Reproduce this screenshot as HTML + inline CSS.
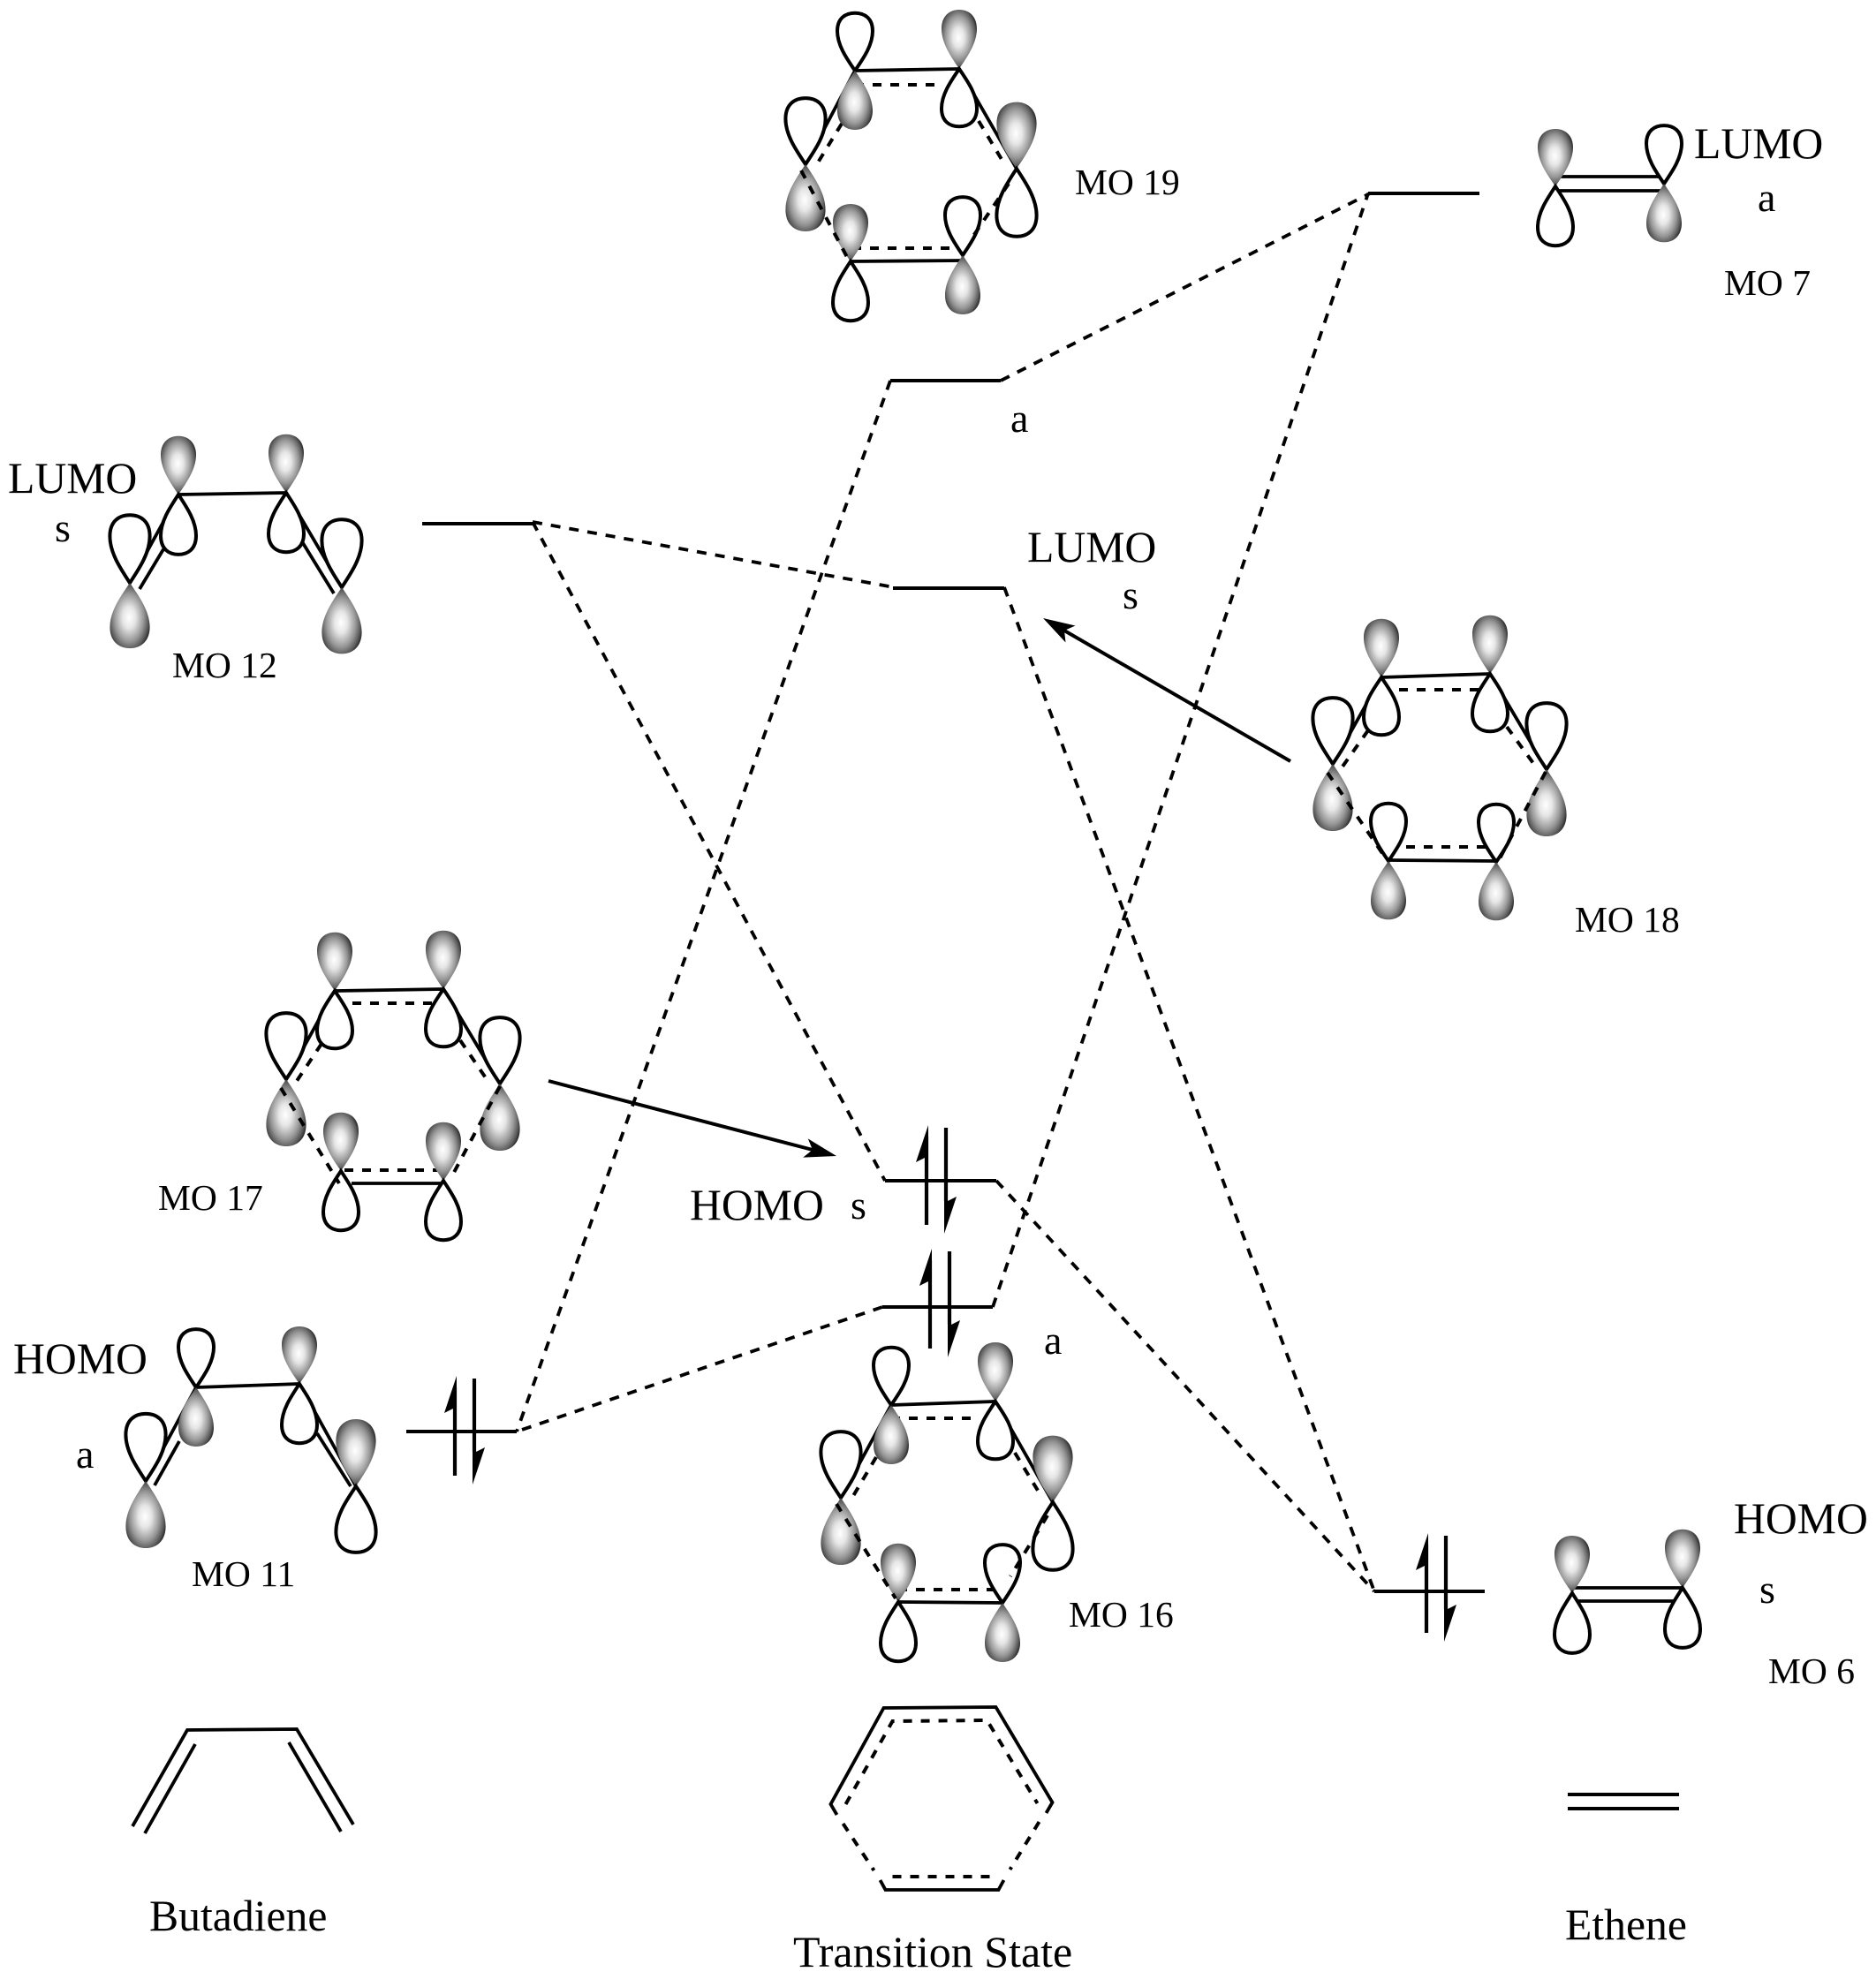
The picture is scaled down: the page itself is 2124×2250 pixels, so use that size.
<!DOCTYPE html>
<html>
<head>
<meta charset="utf-8">
<style>
html,body{margin:0;padding:0;background:#fff}
svg{display:block}
text{font-family:"Liberation Serif",serif;fill:#000}
.b{font-size:49.7px}.m{font-size:41.5px}.k{font-size:46px}
.s{stroke:#000;stroke-width:3.8;fill:none;stroke-linecap:butt;stroke-linejoin:miter}
.d{stroke:#000;stroke-width:4;fill:none;stroke-dasharray:10 10}
.l{stroke:#000;stroke-width:3.8;fill:none;stroke-dasharray:11 10}
.w{fill:#fff;stroke:#000;stroke-width:4;vector-effect:non-scaling-stroke}
</style>
</head>
<body>
<svg width="2124" height="2250" viewBox="0 0 2124 2250" xmlns="http://www.w3.org/2000/svg">
<defs>
<radialGradient id="gr" cx=".48" cy=".47" r=".54">
<stop offset="0" stop-color="#fff"/>
<stop offset=".3" stop-color="#e6e6e6"/>
<stop offset=".68" stop-color="#979797"/>
<stop offset=".9" stop-color="#5a5a5a"/>
<stop offset="1" stop-color="#333"/>
</radialGradient>
<path id="w" class="w" d="M0,0C-9,-13 -20,-28 -20,-44C-20,-58 -11,-64 0,-64C11,-64 20,-58 20,-44C20,-28 9,-13 0,0Z"/>
<path id="g" fill="url(#gr)" d="M0,0C-9,-13 -20,-28 -20,-44C-20,-58 -11,-65 0,-65C11,-65 20,-58 20,-44C20,-28 9,-13 0,0Z"/>
<g id="e">
<path class="s" style="stroke-width:4.2" d="M0,0V-100M22,-110V-27"/>
<path d="M2,-113L-12,-71L0,-77L2,-77ZM20,10L34,-32L24,-27L20,-27Z" fill="#000"/>
</g>
</defs>
<rect width="2124" height="2250" fill="#fff"/>

<!-- correlation lines -->
<path class="l" d="M1133,431L1551,219"/>
<path class="l" d="M1008,431L585,1621"/>
<path class="l" d="M603,591L1012,665"/>
<path class="l" d="M603,591L1002,1337"/>
<path class="l" d="M1137,665L1556,1802"/>
<path class="l" d="M1128,1337L1556,1802"/>
<path class="l" d="M1124,1480L1549,219"/>
<path class="l" d="M999,1480L585,1621"/>

<!-- levels -->
<path class="s" style="stroke-width:4" d="M1549,219H1675M1008,431H1133M478,593H603M1011,666H1137M1002,1337H1128M999,1480H1124M460,1621H585M1556,1802H1681"/>

<!-- electron pairs -->
<use href="#e" transform="translate(1049,1387)"/>
<use href="#e" transform="translate(1053,1527)"/>
<use href="#e" transform="translate(515,1671)"/>
<use href="#e" transform="translate(1615,1849)"/>

<!-- big arrows -->
<path class="s" style="stroke-width:4" d="M1461,862L1205,714"/>
<path d="M1181,700L1217.5,708.5L1205,714L1206.5,727.5Z" fill="#000"/>
<path class="s" style="stroke-width:4" d="M621,1224L920,1302"/>
<path d="M947,1309L914.8,1289.4L920,1302L909.2,1310.6Z" fill="#000"/>

<!-- MO 19 -->
<path class="s" d="M968,80L1086,78L1151,191M968,80L912,186M963,296L1090,295"/>
<path class="d" d="M968,96H1066M953,140L923,189M1108,137L1138,187M965,281H1076"/>
<use href="#w" transform="translate(968,80) scale(1,1.02)"/>
<use href="#g" transform="translate(968,80) scale(1,-1.03)"/>
<use href="#g" transform="translate(1086,78) scale(1,1.03)"/>
<use href="#w" transform="translate(1086,78) scale(1,-1.02)"/>
<use href="#g" transform="translate(1151,191) scale(1.13,1.16)"/>
<use href="#w" transform="translate(1151,191) scale(1.13,-1.2)"/>
<use href="#w" transform="translate(912,186) scale(1.13,1.17)"/>
<use href="#g" transform="translate(912,186) scale(1.13,-1.17)"/>
<use href="#g" transform="translate(963,296) scale(1,1)"/>
<use href="#w" transform="translate(963,296) scale(1,-1.05)"/>
<use href="#w" transform="translate(1090,289) scale(1,1.03)"/>
<use href="#g" transform="translate(1090,289) scale(1,-1.03)"/>
<path class="d" d="M907,193L960,293M1142,208L1098,273"/>

<!-- MO 18 -->
<path class="s" d="M1564,767L1687,763L1751,871M1564,767L1509,865M1572,974L1694,975"/>
<path class="d" d="M1564,781H1680M1549,827L1520,868M1706,823L1738,867M1572,959H1690"/>
<use href="#g" transform="translate(1564,767) scale(1,1.02)"/>
<use href="#w" transform="translate(1564,767) scale(1,-1.02)"/>
<use href="#g" transform="translate(1687,763) scale(1,1.02)"/>
<use href="#w" transform="translate(1687,763) scale(1,-1.02)"/>
<use href="#w" transform="translate(1751,871) scale(1.13,1.17)"/>
<use href="#g" transform="translate(1751,871) scale(1.13,-1.17)"/>
<use href="#w" transform="translate(1509,865) scale(1.13,1.17)"/>
<use href="#g" transform="translate(1509,865) scale(1.13,-1.17)"/>
<use href="#w" transform="translate(1572,975) scale(1,1.02)"/>
<use href="#g" transform="translate(1572,975) scale(1,-1.02)"/>
<use href="#w" transform="translate(1694,976) scale(1,1.02)"/>
<use href="#g" transform="translate(1694,976) scale(1,-1.02)"/>
<path class="d" d="M1503,875L1569,972M1750,874L1697,974"/>

<!-- MO 17 -->
<path class="s" d="M379,1122L502,1120L566,1227M379,1122L324,1222M398,1340H500"/>
<path class="d" d="M379,1136H490M364,1182L334,1227M521,1178L553,1225M390,1325H495"/>
<use href="#g" transform="translate(379,1122) scale(1,1.02)"/>
<use href="#w" transform="translate(379,1122) scale(1,-1.02)"/>
<use href="#g" transform="translate(502,1120) scale(1,1.02)"/>
<use href="#w" transform="translate(502,1120) scale(1,-1.02)"/>
<use href="#w" transform="translate(566,1227) scale(1.13,1.17)"/>
<use href="#g" transform="translate(566,1227) scale(1.13,-1.17)"/>
<use href="#w" transform="translate(324,1222) scale(1.13,1.17)"/>
<use href="#g" transform="translate(324,1222) scale(1.13,-1.17)"/>
<use href="#g" transform="translate(386,1326) scale(1,1.02)"/>
<use href="#w" transform="translate(386,1326) scale(1,-1.05)"/>
<use href="#g" transform="translate(502,1337) scale(1,1.02)"/>
<use href="#w" transform="translate(502,1337) scale(1,-1.05)"/>
<path class="d" d="M318,1232L384,1340M566,1230L510,1335"/>

<!-- MO 16 -->
<path class="s" d="M1009,1591L1127,1587L1192,1701M1009,1591L952,1696M1017,1814L1135,1815"/>
<path class="d" d="M1009,1606H1105M992,1650L963,1699M1149,1645L1180,1696M1017,1800H1125"/>
<use href="#w" transform="translate(1009,1591) scale(1,1.02)"/>
<use href="#g" transform="translate(1009,1591) scale(1,-1.03)"/>
<use href="#g" transform="translate(1127,1587) scale(1,1.03)"/>
<use href="#w" transform="translate(1127,1587) scale(1,-1.02)"/>
<use href="#g" transform="translate(1192,1701) scale(1.13,1.16)"/>
<use href="#w" transform="translate(1192,1701) scale(1.13,-1.2)"/>
<use href="#w" transform="translate(952,1696) scale(1.13,1.17)"/>
<use href="#g" transform="translate(952,1696) scale(1.13,-1.17)"/>
<use href="#g" transform="translate(1017,1814) scale(1,1.02)"/>
<use href="#w" transform="translate(1017,1814) scale(1,-1.05)"/>
<use href="#w" transform="translate(1135,1815) scale(1,1.03)"/>
<use href="#g" transform="translate(1135,1815) scale(1,-1.03)"/>
<path class="d" d="M947,1703L1014,1810M1186,1716L1144,1785"/>

<!-- MO 12 -->
<path class="s" d="M202,560L324,558M202,560L147,660M185,622L158,667M324,558L387,665M343,615L378,672"/>
<use href="#g" transform="translate(202,560) scale(1,1.02)"/>
<use href="#w" transform="translate(202,560) scale(1,-1.06)"/>
<use href="#g" transform="translate(324,558) scale(1,1.02)"/>
<use href="#w" transform="translate(324,558) scale(1,-1.05)"/>
<use href="#w" transform="translate(147,660) scale(1.13,1.2)"/>
<use href="#g" transform="translate(147,660) scale(1.13,-1.14)"/>
<use href="#w" transform="translate(387,665) scale(1.13,1.2)"/>
<use href="#g" transform="translate(387,665) scale(1.13,-1.16)"/>

<!-- MO 11 -->
<path class="s" d="M222,1571L339,1567M222,1571L165,1677M203,1632L175,1682M339,1567L403,1683M359,1623L397,1683"/>
<use href="#w" transform="translate(222,1571) scale(1,1.03)"/>
<use href="#g" transform="translate(222,1571) scale(1,-1.03)"/>
<use href="#g" transform="translate(339,1567) scale(1,1)"/>
<use href="#w" transform="translate(339,1567) scale(1,-1.05)"/>
<use href="#w" transform="translate(165,1677) scale(1.13,1.19)"/>
<use href="#g" transform="translate(165,1677) scale(1.13,-1.17)"/>
<use href="#g" transform="translate(403,1683) scale(1.13,1.17)"/>
<use href="#w" transform="translate(403,1683) scale(1.13,-1.17)"/>

<!-- Ethene LUMO -->
<path class="s" d="M1761,200H1884M1761,216H1884"/>
<use href="#g" transform="translate(1761,211) scale(1,1)"/>
<use href="#w" transform="translate(1761,211) scale(1,-1.05)"/>
<use href="#w" transform="translate(1884,208) scale(1,1.03)"/>
<use href="#g" transform="translate(1884,208) scale(1,-1.02)"/>

<!-- Ethene HOMO -->
<path class="s" d="M1780,1798H1905M1780,1813H1905"/>
<use href="#g" transform="translate(1780,1804) scale(1,1)"/>
<use href="#w" transform="translate(1780,1804) scale(1,-1.06)"/>
<use href="#g" transform="translate(1905,1798) scale(1,1.02)"/>
<use href="#w" transform="translate(1905,1798) scale(1,-1.06)"/>

<!-- Butadiene structure -->
<path class="s" d="M150,2068L212,1959L336,1958L400,2066M221,1975L164,2076M327,1973L386,2074"/>

<!-- Transition state structure -->
<g transform="translate(-3.5,0)">
<path class="s" d="M951,2055L944,2043L1004,1934L1131,1933L1195,2041L1188,2053"/>
<path class="s" d="M1000,2129L1006,2140H1134L1140,2129"/>
<path class="d" d="M958,2065L993,2118M1180,2063L1147,2117"/>
<path class="d" d="M961,2043L1014,1949L1121,1948L1178,2042"/>
<path class="d" d="M1014,2125H1126"/>
</g>

<!-- Ethene structure -->
<path class="s" style="stroke-width:4" d="M1775,2032H1901M1775,2048H1901"/>

<!-- labels -->
<text class="m" x="1217" y="220">MO 19</text>
<text class="b" x="1918" y="179">LUMO</text>
<text class="k" x="1990" y="239">a</text>
<text class="m" x="1952" y="334">MO 7</text>
<text class="k" x="1144" y="489">a</text>
<text class="b" x="9" y="558">LUMO</text>
<text class="k" x="62" y="613">s</text>
<text class="b" x="1163" y="636">LUMO</text>
<text class="k" x="1271" y="689">s</text>
<text class="m" x="195" y="767">MO 12</text>
<text class="m" x="1783" y="1055">MO 18</text>
<text class="m" x="179" y="1370">MO 17</text>
<text class="b" x="781" y="1381">HOMO</text>
<text class="k" x="963" y="1380">s</text>
<text class="k" x="1182" y="1533">a</text>
<text class="b" x="15" y="1555">HOMO</text>
<text class="k" x="86" y="1662">a</text>
<text class="m" x="217" y="1796">MO 11</text>
<text class="b" x="1963" y="1736">HOMO</text>
<text class="k" x="1992" y="1815">s</text>
<text class="m" x="1210" y="1842">MO 16</text>
<text class="m" x="2002" y="1906">MO 6</text>
<text class="b" x="169" y="2186">Butadiene</text>
<text class="b" x="898" y="2227" style="font-size:50px">Transition State</text>
<text class="b" x="1772" y="2196">Ethene</text>
</svg>
</body>
</html>
